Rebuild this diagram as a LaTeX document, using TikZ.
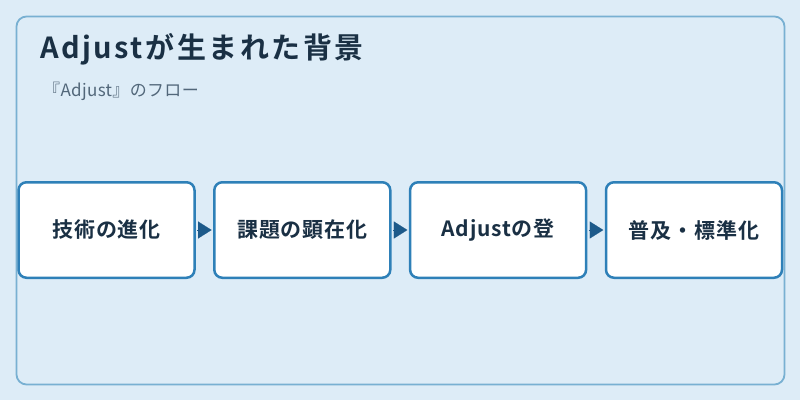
\documentclass[tikz,border=0pt]{standalone}
\usepackage{fontspec}
\setmainfont{Noto Sans CJK JP}[BoldFont={Noto Sans CJK JP Bold}]
\usetikzlibrary{arrows.meta}
\definecolor{bgc}{HTML}{DDECF7}
\definecolor{framec}{HTML}{78B0D2}
\definecolor{boxc}{HTML}{2E80B8}
\definecolor{arrc}{HTML}{1D5A8A}
\definecolor{titlec}{HTML}{1A3044}
\definecolor{subc}{HTML}{52677A}
\begin{document}
\begin{tikzpicture}[x=1pt,y=-1pt,
  stepbox/.style={draw=boxc, line width=2.5pt, fill=white, rounded corners=8pt,
    minimum width=176pt, minimum height=95.5pt, inner sep=0pt,
    font=\fontsize{21}{24}\selectfont\bfseries\addfontfeature{LetterSpace=4}, text=titlec},
  flowarrow/.style={draw=arrc, fill=arrc, line width=0.1pt, shorten <=1.5pt, shorten >=1.5pt,
    -{Triangle[length=13.5pt,width=17pt]}}]
\fill[bgc] (0,0) rectangle (800,400);
\useasboundingbox (0,0) rectangle (800,400);
\draw[framec, line width=1.8pt, rounded corners=10pt] (16.5,16.5) rectangle (784.5,384.5);
\node[anchor=base west, inner sep=0pt, text=titlec, font=\fontsize{29}{32}\selectfont\bfseries\addfontfeature{LetterSpace=8.6}] (title) at (40,58) {Adjustが生まれた背景};
\node[anchor=base west, inner sep=0pt, text=subc, font=\fontsize{17}{20}\selectfont\addfontfeature{LetterSpace=2}] (sub) at (43,96) {『Adjust』のフロー};
\node[stepbox] (b1) at (106.5,230) {技術の進化};
\node[stepbox] (b2) at (302.3,230) {課題の顕在化};
\node[stepbox] (b3) at (498.1,230) {Adjustの登};
\node[stepbox] (b4) at (694,230) {普及・標準化};
\draw[flowarrow] (b1.east) -- (b2.west);
\draw[flowarrow] (b2.east) -- (b3.west);
\draw[flowarrow] (b3.east) -- (b4.west);
\end{tikzpicture}
\end{document}
